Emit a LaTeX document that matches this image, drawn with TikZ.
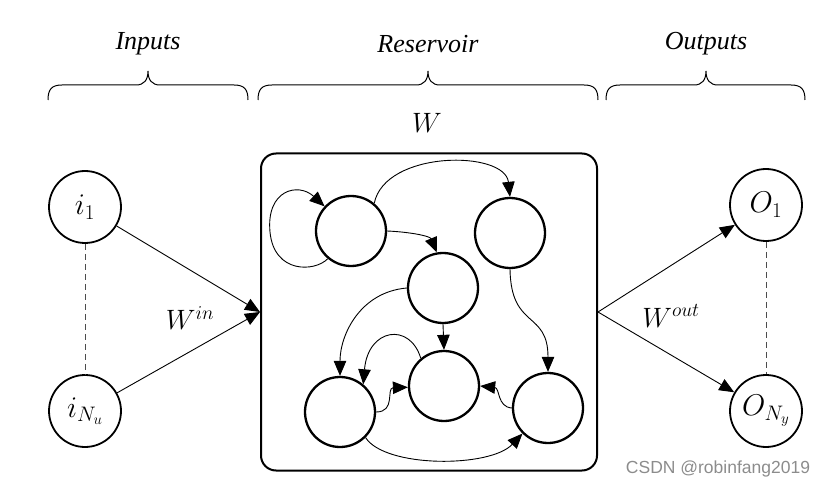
\documentclass[tikz,border=0pt]{standalone}
\usepackage{fix-cm}
\usepackage{fontspec}
\setmainfont{Liberation Serif}
\newfontfamily\wmfont{Liberation Sans}
\usetikzlibrary{arrows.meta}
\begin{document}
\begin{tikzpicture}[x=1pt,y=-1pt,
  neuron/.style={circle,draw,line width=2.3pt,minimum size=70pt,inner sep=0pt},
  ionode/.style={circle,draw,line width=1.8pt,minimum size=72pt,inner sep=0pt,font=\fontsize{30}{34}\selectfont},
  conn/.style={line width=0.9pt,-{Triangle[length=15pt,width=12.5pt]}},
  dashconn/.style={line width=1pt,draw=black!70,dash pattern=on 6pt off 4pt},
  brc/.style={line width=1pt},
  hdr/.style={font=\fontsize{26}{30}\selectfont\itshape},
  mlabel/.style={font=\fontsize{28}{32}\selectfont},
  wmark/.style={font=\wmfont\fontsize{17.5}{20}\selectfont,text=black!45}]

\useasboundingbox (0,0) rectangle (830,489);

% headers
\node[hdr] (tin) at (148,44) {Inputs};
\node[hdr] (tres) at (428,44) {Reservoir};
\node[hdr] (tout) at (706,44) {Outputs};

% braces
\draw[brc] (48,100) .. controls (48,89) and (52,85) .. (62,85) -- (136,85)
  .. controls (144,85) and (148,80) .. (148,71) .. controls (148,80) and (152,85) .. (160,85)
  -- (234,85) .. controls (244,85) and (248,89) .. (248,100);
\draw[brc] (258,100) .. controls (258,89) and (262,85) .. (272,85) -- (416,85)
  .. controls (424,85) and (428,80) .. (428,71) .. controls (428,80) and (432,85) .. (440,85)
  -- (584,85) .. controls (594,85) and (598,89) .. (598,100);
\draw[brc] (606,100) .. controls (606,89) and (610,85) .. (620,85) -- (694,85)
  .. controls (702,85) and (706,80) .. (706,71) .. controls (706,80) and (710,85) .. (718,85)
  -- (791,85) .. controls (801,85) and (805,89) .. (805,100);

% reservoir box
\node[draw,rounded corners=15pt,line width=2pt,minimum width=336pt,minimum height=317pt,inner sep=0pt] (R) at (429,312) {};
\node[mlabel] (Wlab) at (427,123) {$W$};

% io nodes
\node[ionode] (i1) at (85,207) {$i_1$};
\node[ionode] (iN) at (85,411) {$i_{N_u}$};
\node[ionode] (o1) at (766,205) {$O_1$};
\node[ionode] (oN) at (766,411) {$O_{N_y}$};

\draw[dashconn] (i1.south) -- (iN.north);
\draw[dashconn] (o1.south) -- (oN.north);

\draw[conn] (i1) -- (R.west);
\draw[conn] (iN) -- (R.west);
\draw[conn] (R.east) -- (o1);
\draw[conn] (R.east) -- (oN);

\node[mlabel] (Win) at (190,318) {$W^{in}$};
\node[mlabel] (Wout) at (671,316) {$W^{out}$};

% reservoir neurons
\node[neuron] (A) at (351,231) {};
\node[neuron] (B) at (510,233) {};
\node[neuron] (C) at (443,288) {};
\node[neuron] (D) at (340,412) {};
\node[neuron] (E) at (444,386) {};
\node[neuron] (F) at (548,408) {};

% internal connections
\draw[conn] (A.230) .. controls (315,272) and (274,274) .. (270,232)
  .. controls (266,190) and (298,182) .. (A.137);
\draw[conn] (A.50) .. controls (385,150) and (505,150) .. (B.90);
\draw[conn] (A.0) .. controls (410,232) and (430,236) .. (C.100);
\draw[conn] (C.180) .. controls (360,292) and (340,335) .. (D.90);
\draw[conn] (C.270) -- (E.90);
\draw[conn] (E.130) .. controls (410,322) and (368,328) .. (D.50);
\draw[conn] (D.0) .. controls (396,412) and (386,388) .. (E.182);
\draw[conn] (F.180) .. controls (497,407) and (500,388) .. (E.0);
\draw[conn] (B.270) .. controls (511,330) and (548,310) .. (F.90);
\draw[conn] (D.-45) .. controls (385,468) and (490,468) .. (F.225);

% watermark
\node[wmark] (wm) at (718,469) {CSDN @robinfang2019};
\end{tikzpicture}
\end{document}
